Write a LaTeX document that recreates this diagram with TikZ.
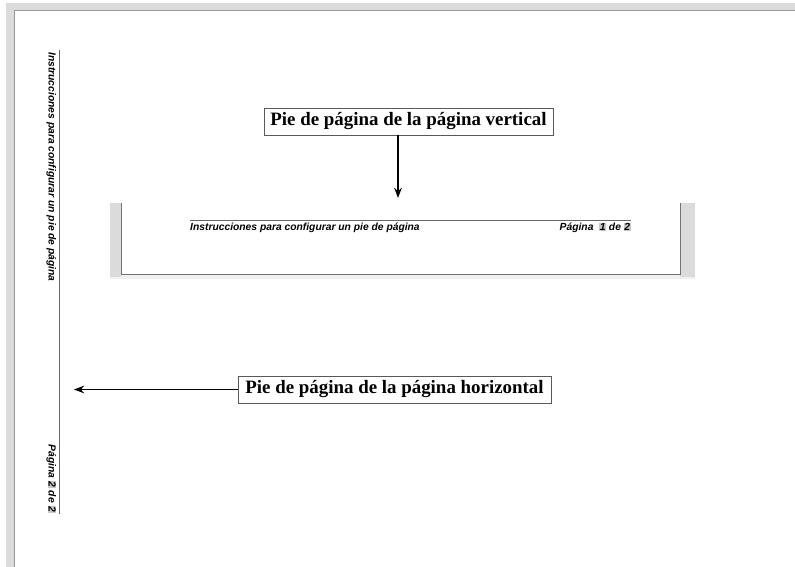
\documentclass[tikz,border=0pt]{standalone}
\usepackage{fontspec}
\setmainfont{Liberation Serif}
\setsansfont{Liberation Sans}
\usetikzlibrary{positioning, arrows.meta}

\newcommand{\pnum}[1]{{\setlength{\fboxsep}{0.6pt}\colorbox{black!22}{#1}}}

\begin{document}
\begin{tikzpicture}[x=1pt, y=-1pt, >=Stealth,
        callout/.style={draw=black!65, line width=0.8pt, fill=white, inner xsep=2pt,
            minimum height=27pt, font=\bfseries\fontsize{18.9}{20}\selectfont},
        footer/.style={inner sep=0pt, font=\sffamily\bfseries\itshape\fontsize{10.3}{12}\selectfont},
        pointer/.style={->, line width=1.6pt, shorten >=0pt}]

        \useasboundingbox (0,0) rectangle (795,567);

        % --- Page (portrait) ---
        \fill[black!14] (6,3) rectangle (795,567);
        \fill[white] (14,10) rectangle (795,567);
        \draw[black!40] (14,567) |- (795,10);

        % --- Footer of the landscape page, turned ---
        \coordinate (vtop) at (59,50);
        \coordinate (vbot) at (59,514);
        \draw[black!60, line width=0.8pt] (vtop) -- (vbot);
        \node[footer, rotate=-90, anchor=north west] (vtitle) at (56.5,52)
            {Instrucciones para configurar un pie de página};
        \node[footer, rotate=-90, anchor=north east] (vpage) at (56.5,513)
            {Página \pnum{2} de \pnum{2}};

        % --- Cut of the portrait page ---
        \fill[black!6] (110,274) rectangle (695,279);
        \fill[black!14] (110,203) rectangle (121,277);
        \fill[black!14] (680,203) rectangle (695,277);
        \draw[black!55, line width=0.8pt] (121,203) |- (680,274) -- (680,203);

        \coordinate (hleft) at (190,220);
        \coordinate (hright) at (631,220);
        \draw[black!60, line width=0.8pt] (hleft) -- (hright);
        \node[footer, anchor=north west] (htitle) at ([yshift=-2.5pt]hleft)
            {Instrucciones para configurar un pie de página};
        \node[footer, anchor=north east] (hpage) at ([yshift=-2.5pt]hright)
            {Página \ \pnum{1} de \pnum{2}};

        % --- Callouts ---
        \node[callout, minimum width=289pt] (vert) at (408.5,121.5)
            {Pie de página de la página vertical};
        \node[callout, minimum width=313pt] (horiz) at (394.5,389.5)
            {Pie de página de la página horizontal};

        \coordinate (vtip) at (398,198);
        \coordinate (htip) at (74,389.5);
        \draw[pointer] (vert.south -| vtip) -- (vtip);
        \draw[pointer] (horiz.west) -- (htip);

    \end{tikzpicture}
\end{document}
